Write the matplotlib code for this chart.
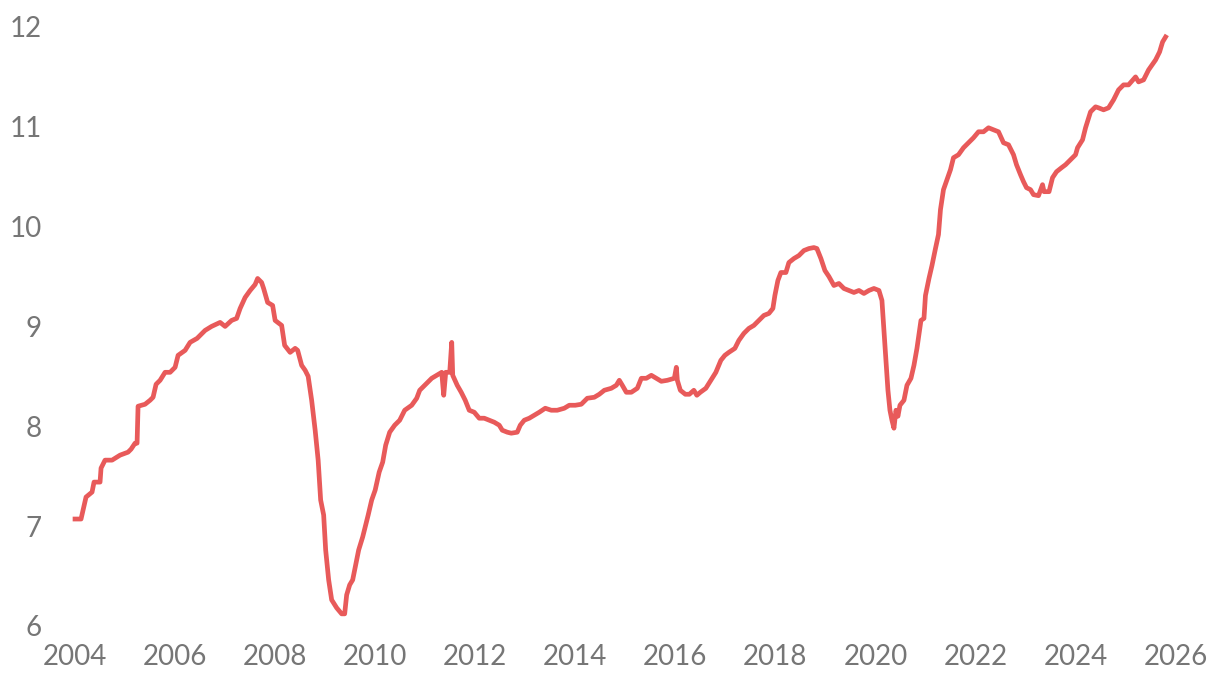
import matplotlib
matplotlib.use("Agg")
import matplotlib.pyplot as plt

# decimal year, value
years = [2004.0, 2004.12, 2004.16, 2004.22, 2004.34, 2004.38, 2004.5, 2004.52,
         2004.6, 2004.74, 2004.9, 2005.06, 2005.12, 2005.2, 2005.24, 2005.26,
         2005.4, 2005.5, 2005.56, 2005.62, 2005.7, 2005.8, 2005.9, 2006.0,
         2006.06, 2006.2, 2006.3, 2006.44, 2006.6, 2006.73, 2006.9, 2007.0,
         2007.13, 2007.23, 2007.3, 2007.4, 2007.5, 2007.6, 2007.65, 2007.73,
         2007.77, 2007.85, 2007.95, 2008.0, 2008.13, 2008.19, 2008.3, 2008.4,
         2008.45, 2008.53, 2008.6, 2008.66, 2008.73, 2008.8, 2008.86, 2008.91,
         2008.97, 2009.01, 2009.07, 2009.13, 2009.23, 2009.33, 2009.39, 2009.43,
         2009.49, 2009.55, 2009.61, 2009.67, 2009.75, 2009.8, 2009.86, 2009.93,
         2010.0, 2010.08, 2010.15, 2010.21, 2010.29, 2010.39, 2010.49, 2010.59,
         2010.73, 2010.83, 2010.89, 2010.99, 2011.13, 2011.23, 2011.33, 2011.37,
         2011.41, 2011.49, 2011.53, 2011.55, 2011.64, 2011.72, 2011.8, 2011.88,
         2011.98, 2012.08, 2012.18, 2012.28, 2012.38, 2012.48, 2012.54, 2012.64,
         2012.72, 2012.84, 2012.9, 2012.98, 2013.08, 2013.18, 2013.28, 2013.4,
         2013.52, 2013.64, 2013.78, 2013.88, 2014.0, 2014.12, 2014.24, 2014.38,
         2014.48, 2014.58, 2014.72, 2014.82, 2014.88, 2014.94, 2015.02, 2015.12,
         2015.24, 2015.32, 2015.42, 2015.52, 2015.62, 2015.72, 2015.84, 2015.98,
         2016.02, 2016.04, 2016.1, 2016.2, 2016.28, 2016.37, 2016.43, 2016.5,
         2016.61, 2016.71, 2016.81, 2016.91, 2016.99, 2017.07, 2017.19, 2017.27,
         2017.37, 2017.47, 2017.57, 2017.67, 2017.77, 2017.87, 2017.95, 2017.99,
         2018.05, 2018.11, 2018.21, 2018.27, 2018.37, 2018.47, 2018.57, 2018.67,
         2018.77, 2018.83, 2018.91, 2018.99, 2019.07, 2019.17, 2019.27, 2019.37,
         2019.47, 2019.57, 2019.67, 2019.77, 2019.87, 2019.97, 2020.07, 2020.13,
         2020.17, 2020.21, 2020.25, 2020.29, 2020.33, 2020.37, 2020.41, 2020.45,
         2020.49, 2020.57, 2020.63, 2020.71, 2020.77, 2020.83, 2020.91, 2020.97,
         2021.0, 2021.07, 2021.13, 2021.2, 2021.26, 2021.3, 2021.36, 2021.43,
         2021.5, 2021.56, 2021.66, 2021.76, 2021.86, 2021.96, 2022.06, 2022.16,
         2022.26, 2022.36, 2022.46, 2022.56, 2022.66, 2022.76, 2022.82, 2022.9,
         2022.96, 2023.02, 2023.1, 2023.16, 2023.26, 2023.34, 2023.37, 2023.47,
         2023.54, 2023.62, 2023.72, 2023.8, 2023.9, 2024.0, 2024.04, 2024.14,
         2024.2, 2024.3, 2024.4, 2024.46, 2024.56, 2024.66, 2024.76, 2024.86,
         2024.96, 2025.06, 2025.2, 2025.26, 2025.36, 2025.46, 2025.6, 2025.68,
         2025.74, 2025.8]
values = [7.07, 7.07, 7.16, 7.29, 7.34, 7.44, 7.44, 7.58,
          7.66, 7.66, 7.71, 7.74, 7.77, 7.83, 7.83, 8.20,
          8.22, 8.26, 8.29, 8.42, 8.46, 8.54, 8.54, 8.59,
          8.71, 8.76, 8.84, 8.88, 8.96, 9.00, 9.04, 9.00,
          9.06, 9.08, 9.18, 9.29, 9.36, 9.42, 9.48, 9.44,
          9.38, 9.24, 9.21, 9.06, 9.01, 8.81, 8.74, 8.78,
          8.76, 8.61, 8.56, 8.50, 8.26, 7.96, 7.66, 7.26,
          7.11, 6.76, 6.46, 6.26, 6.18, 6.12, 6.12, 6.31,
          6.41, 6.46, 6.61, 6.76, 6.89, 6.99, 7.11, 7.26,
          7.36, 7.54, 7.64, 7.81, 7.94, 8.01, 8.06, 8.16,
          8.21, 8.28, 8.36, 8.41, 8.48, 8.51, 8.54, 8.31,
          8.54, 8.54, 8.84, 8.51, 8.41, 8.34, 8.26, 8.16,
          8.14, 8.08, 8.08, 8.06, 8.04, 8.01, 7.96, 7.94,
          7.93, 7.94, 8.01, 8.06, 8.08, 8.11, 8.14, 8.18,
          8.16, 8.16, 8.18, 8.21, 8.21, 8.22, 8.28, 8.29,
          8.32, 8.36, 8.38, 8.41, 8.46, 8.41, 8.34, 8.34,
          8.38, 8.48, 8.48, 8.51, 8.48, 8.45, 8.46, 8.48,
          8.59, 8.46, 8.36, 8.32, 8.32, 8.36, 8.31, 8.34,
          8.38, 8.46, 8.54, 8.66, 8.71, 8.74, 8.78, 8.86,
          8.93, 8.98, 9.01, 9.06, 9.11, 9.13, 9.18, 9.31,
          9.46, 9.54, 9.54, 9.64, 9.68, 9.71, 9.76, 9.78,
          9.79, 9.78, 9.68, 9.56, 9.50, 9.41, 9.43, 9.38,
          9.36, 9.34, 9.36, 9.33, 9.36, 9.38, 9.36, 9.26,
          8.96, 8.66, 8.36, 8.16, 8.06, 7.98, 8.16, 8.10,
          8.21, 8.26, 8.41, 8.48, 8.61, 8.78, 9.06, 9.08,
          9.31, 9.48, 9.61, 9.78, 9.92, 10.17, 10.37, 10.47,
          10.57, 10.69, 10.72, 10.79, 10.84, 10.89, 10.95, 10.95,
          10.99, 10.97, 10.95, 10.84, 10.82, 10.72, 10.62, 10.52,
          10.45, 10.39, 10.37, 10.32, 10.31, 10.42, 10.35, 10.35,
          10.49, 10.55, 10.59, 10.62, 10.67, 10.72, 10.79, 10.87,
          10.99, 11.15, 11.20, 11.19, 11.17, 11.19, 11.27, 11.37,
          11.42, 11.42, 11.50, 11.45, 11.47, 11.57, 11.67, 11.75,
          11.85, 11.90]

x_ticks = list(range(2004, 2027, 2))
y_ticks = [6, 7, 8, 9, 10, 11, 12]

fig = plt.figure(figsize=(12.2, 6.8), dpi=100)
ax = fig.add_axes([0.041, 0.065, 0.939, 0.91])
ax.plot(years, values, color="#e85a5a", linewidth=3.4, solid_joinstyle="round")

ax.set_xlim(2003.5, 2026.4)
ax.set_ylim(5.9, 12.1)
ax.set_xticks(x_ticks)
ax.set_xticklabels([str(y) for y in x_ticks])
ax.set_yticks(y_ticks)
ax.set_yticklabels([str(v) for v in y_ticks])
for s in ax.spines.values():
    s.set_visible(False)
ax.tick_params(length=0, labelsize=20, labelcolor="#767676", pad=6)
for lbl in ax.get_xticklabels() + ax.get_yticklabels():
    lbl.set_family(["Lato", "DejaVu Sans"])

fig.savefig("out.png", dpi=100)
